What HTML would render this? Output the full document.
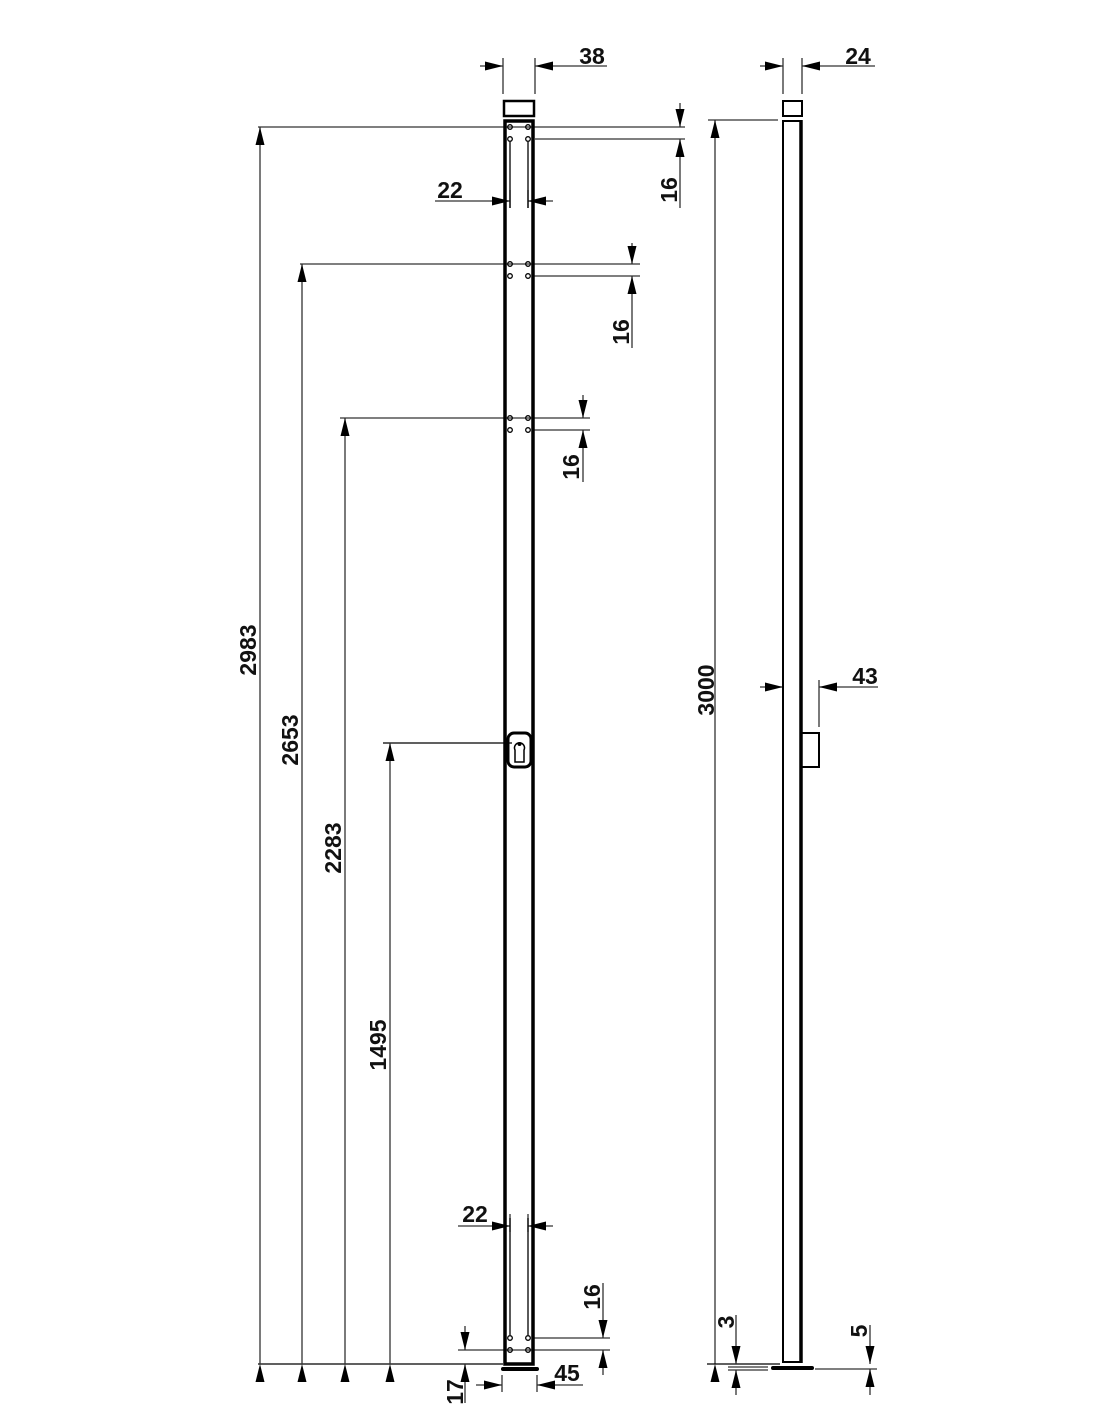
<!DOCTYPE html>
<html><head><style>body{margin:0;background:#fff}svg{display:block}text{font-family:"Liberation Sans",sans-serif;font-weight:bold;font-size:23px;fill:#111}</style></head>
<body>
<svg width="1100" height="1422" viewBox="0 0 1100 1422" xmlns="http://www.w3.org/2000/svg">
<defs>
<marker id="a" viewBox="0 0 10 5" refX="10" refY="2.5" markerWidth="20" markerHeight="9" markerUnits="userSpaceOnUse" orient="auto"><path d="M0,0L10,2.5L0,5z" fill="#000"/></marker>
</defs>
<g stroke="#333" stroke-width="1.3" fill="none">
<line x1="258" y1="127" x2="685" y2="127"/><line x1="535" y1="139" x2="685" y2="139"/>
<line x1="300" y1="264" x2="640" y2="264"/><line x1="533" y1="276" x2="640" y2="276"/>
<line x1="340" y1="418" x2="590" y2="418"/><line x1="533" y1="430" x2="590" y2="430"/>
<line x1="383" y1="743" x2="512" y2="743" stroke="#000"/>
<line x1="258" y1="1364" x2="503" y2="1364" stroke="#000"/>
<line x1="458" y1="1350" x2="610" y2="1350"/><line x1="533" y1="1338" x2="610" y2="1338"/>
<line x1="503" y1="58" x2="503" y2="94"/><line x1="535" y1="58" x2="535" y2="94"/>
<line x1="502" y1="1375" x2="502" y2="1392"/><line x1="537" y1="1375" x2="537" y2="1392"/>
<line x1="510" y1="190" x2="510" y2="208"/><line x1="528" y1="190" x2="528" y2="208"/>
<line x1="510" y1="1214" x2="510" y2="1232"/><line x1="528" y1="1214" x2="528" y2="1232"/>
<line x1="260" y1="1364" x2="260" y2="127" marker-end="url(#a)" marker-start="url(#a)"/>
<line x1="302" y1="1364" x2="302" y2="264" marker-end="url(#a)" marker-start="url(#a)"/>
<line x1="345" y1="1364" x2="345" y2="418" marker-end="url(#a)" marker-start="url(#a)"/>
<line x1="390" y1="1364" x2="390" y2="743" marker-end="url(#a)" marker-start="url(#a)"/>
<line x1="680" y1="103" x2="680" y2="127" marker-end="url(#a)"/><line x1="680" y1="208" x2="680" y2="139" marker-end="url(#a)"/>
<line x1="632" y1="243" x2="632" y2="264" marker-end="url(#a)"/><line x1="632" y1="348" x2="632" y2="276" marker-end="url(#a)"/>
<line x1="583" y1="395" x2="583" y2="418" marker-end="url(#a)"/><line x1="583" y1="482" x2="583" y2="430" marker-end="url(#a)"/>
<line x1="603" y1="1283" x2="603" y2="1338" marker-end="url(#a)"/><line x1="603" y1="1375" x2="603" y2="1350" marker-end="url(#a)"/>
<line x1="465" y1="1326" x2="465" y2="1350" marker-end="url(#a)"/><line x1="465" y1="1403" x2="465" y2="1364" marker-end="url(#a)"/>
<line x1="480" y1="66" x2="503" y2="66" marker-end="url(#a)"/><line x1="607" y1="66" x2="535" y2="66" marker-end="url(#a)"/>
<line x1="435" y1="201" x2="510" y2="201" marker-end="url(#a)"/><line x1="553" y1="201" x2="528" y2="201" marker-end="url(#a)"/>
<line x1="458" y1="1226" x2="510" y2="1226" marker-end="url(#a)"/><line x1="553" y1="1226" x2="528" y2="1226" marker-end="url(#a)"/>
<line x1="476" y1="1385" x2="502" y2="1385" marker-end="url(#a)"/><line x1="583" y1="1385" x2="537" y2="1385" marker-end="url(#a)"/>
<line x1="708" y1="120" x2="778" y2="120"/>
<line x1="715" y1="1364" x2="715" y2="120" marker-end="url(#a)" marker-start="url(#a)"/>
<line x1="783" y1="58" x2="783" y2="94"/><line x1="802" y1="58" x2="802" y2="94"/>
<line x1="760" y1="66" x2="783" y2="66" marker-end="url(#a)"/><line x1="875" y1="66" x2="802" y2="66" marker-end="url(#a)"/>
<line x1="819" y1="680" x2="819" y2="727"/>
<line x1="760" y1="687" x2="783" y2="687" marker-end="url(#a)"/><line x1="878" y1="687" x2="819" y2="687" marker-end="url(#a)"/>
<line x1="707" y1="1364" x2="780" y2="1364" stroke="#000"/>
<line x1="728" y1="1367" x2="768" y2="1367"/><line x1="728" y1="1370" x2="768" y2="1370"/>
<line x1="815" y1="1369" x2="877" y2="1369"/>
<line x1="736" y1="1315" x2="736" y2="1364" marker-end="url(#a)"/><line x1="736" y1="1395" x2="736" y2="1370" marker-end="url(#a)"/>
<line x1="870" y1="1325" x2="870" y2="1364" marker-end="url(#a)"/><line x1="870" y1="1395" x2="870" y2="1369" marker-end="url(#a)"/>
</g>
<g stroke="#000" fill="none">
<rect x="504" y="101" width="30" height="15" stroke-width="2.5"/>
<path d="M505,1364V121H533V1364Z" stroke-width="3.5"/>
<line x1="503" y1="1369" x2="537" y2="1369" stroke-width="4" stroke-linecap="round"/>
<g stroke-width="1.3"><line x1="510" y1="142" x2="510" y2="208"/><line x1="528" y1="142" x2="528" y2="208"/>
<line x1="510" y1="1218" x2="510" y2="1335"/><line x1="528" y1="1218" x2="528" y2="1335"/>
<circle cx="510" cy="127" r="2.3"/><circle cx="528" cy="127" r="2.3"/><circle cx="510" cy="139" r="2.3"/><circle cx="528" cy="139" r="2.3"/>
<circle cx="510" cy="264" r="2.3"/><circle cx="528" cy="264" r="2.3"/><circle cx="510" cy="276" r="2.3"/><circle cx="528" cy="276" r="2.3"/>
<circle cx="510" cy="418" r="2.3"/><circle cx="528" cy="418" r="2.3"/><circle cx="510" cy="430" r="2.3"/><circle cx="528" cy="430" r="2.3"/>
<circle cx="510" cy="1338" r="2.3"/><circle cx="528" cy="1338" r="2.3"/><circle cx="510" cy="1350" r="2.3"/><circle cx="528" cy="1350" r="2.3"/></g>
<rect x="508" y="733" width="23" height="34" rx="6" stroke-width="3"/>
<path d="M515,750A5,5 0 1 1 524,750L524,762H515Z" stroke-width="1.5"/>
<circle cx="519.5" cy="744" r="1.5" fill="#000"/>
<rect x="783" y="101" width="19" height="15" stroke-width="2"/>
<line x1="783" y1="120" x2="783" y2="1363" stroke-width="2"/>
<line x1="801" y1="120" x2="801" y2="1363" stroke-width="3.5"/>
<line x1="783" y1="121" x2="802" y2="121" stroke-width="2"/>
<line x1="783" y1="1362" x2="802" y2="1362" stroke-width="2"/>
<line x1="773" y1="1368" x2="812" y2="1368" stroke-width="4" stroke-linecap="round"/>
<path d="M802,733H819V767H802" stroke-width="2"/>
</g>
<text x="592" y="64" text-anchor="middle">38</text>
<text x="858" y="64" text-anchor="middle">24</text>
<text x="450" y="198" text-anchor="middle">22</text>
<text x="475" y="1222" text-anchor="middle">22</text>
<text x="567" y="1381" text-anchor="middle">45</text>
<text x="865" y="684" text-anchor="middle">43</text>
<g>
<text transform="translate(256,650) rotate(-90)" text-anchor="middle">2983</text>
<text transform="translate(298,740) rotate(-90)" text-anchor="middle">2653</text>
<text transform="translate(341,848) rotate(-90)" text-anchor="middle">2283</text>
<text transform="translate(386,1045) rotate(-90)" text-anchor="middle">1495</text>
<text transform="translate(714,690) rotate(-90)" text-anchor="middle">3000</text>
<text transform="translate(677,190) rotate(-90)" text-anchor="middle">16</text>
<text transform="translate(629,332) rotate(-90)" text-anchor="middle">16</text>
<text transform="translate(579,467) rotate(-90)" text-anchor="middle">16</text>
<text transform="translate(600,1297) rotate(-90)" text-anchor="middle">16</text>
<text transform="translate(463,1392) rotate(-90)" text-anchor="middle">17</text>
<text transform="translate(734,1322) rotate(-90)" text-anchor="middle">3</text>
<text transform="translate(867,1331) rotate(-90)" text-anchor="middle">5</text>
</g>
</svg>
</body></html>
